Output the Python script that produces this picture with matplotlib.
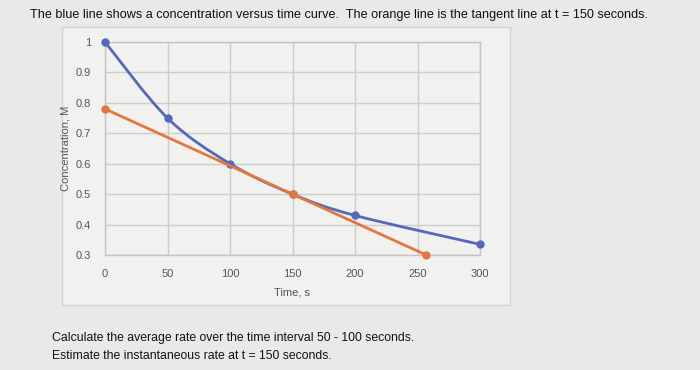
import matplotlib
matplotlib.use("Agg")
import matplotlib.pyplot as plt
from matplotlib.path import Path
from matplotlib.patches import PathPatch, Rectangle
import numpy as np

plt.rcParams['font.family'] = ['Liberation Sans', 'DejaVu Sans']

title = "The blue line shows a concentration versus time curve.  The orange line is the tangent line at t = 150 seconds."
question1 = "Calculate the average rate over the time interval 50 - 100 seconds."
question2 = "Estimate the instantaneous rate at t = 150 seconds."

blue_t = [0, 50, 100, 150, 200, 300]
blue_c = [1.0, 0.75, 0.60, 0.50, 0.43, 0.335]
orange_t = [0, 150, 257]
orange_c = [0.78, 0.50, 0.30]

x_ticks = [0, 50, 100, 150, 200, 250, 300]
y_ticks = [0.3, 0.4, 0.5, 0.6, 0.7, 0.8, 0.9, 1.0]
y_tick_labels = ["0.3", "0.4", "0.5", "0.6", "0.7", "0.8", "0.9", "1"]

BLUE = "#5668b8"
ORANGE = "#e4763f"
BG = "#e9e9e7"

fig = plt.figure(figsize=(7, 3.7), dpi=100, facecolor=BG)

# chart panel
fig.patches.append(Rectangle((62/700, 1-305/370), (510-62)/700, (305-27)/370,
                             transform=fig.transFigure, facecolor="#f1f1ef",
                             edgecolor="#d4d4d2", linewidth=1.0, zorder=-5))

ax = fig.add_axes([105/700, 1-255/370, (480-105)/700, (255-42)/370])
ax.set_zorder(2)
ax.set_facecolor("#f1f1ef")
ax.set_xlim(0, 300)
ax.set_ylim(0.3, 1.0)
ax.set_xticks(x_ticks)
ax.set_yticks(y_ticks)
ax.set_yticklabels(y_tick_labels)
ax.grid(True, color="#cdcdcb", linewidth=1.0)
ax.set_axisbelow(True)
for s in ax.spines.values():
    s.set_color("#c4c4c2")
    s.set_linewidth(1.0)
ax.tick_params(length=0, labelsize=8, colors="#555555", pad=10)
ax.set_xlabel("Time, s", fontsize=8, color="#555555", labelpad=6)
ax.set_ylabel("Concentration, M", fontsize=8, color="#555555", labelpad=4)

# smooth blue curve (Catmull-Rom style Bezier through the data points)
x = np.array(blue_t, dtype=float)
y = np.array(blue_c, dtype=float)
verts = [(x[0], y[0])]
codes = [Path.MOVETO]
n = len(x)
for i in range(n - 1):
    i0 = max(i - 1, 0)
    i3 = min(i + 2, n - 1)
    c1 = (x[i] + (x[i+1] - x[i0]) / 6, y[i] + (y[i+1] - y[i0]) / 6)
    c2 = (x[i+1] - (x[i3] - x[i]) / 6, y[i+1] - (y[i3] - y[i]) / 6)
    verts += [c1, c2, (x[i+1], y[i+1])]
    codes += [Path.CURVE4] * 3
ax.add_patch(PathPatch(Path(verts, codes), facecolor="none", edgecolor=BLUE,
                       linewidth=2.0, zorder=3, clip_on=False))
ax.plot(blue_t, blue_c, linestyle="none", marker="o", markersize=5,
        color=BLUE, zorder=4, clip_on=False)

ax.plot(orange_t, orange_c, color=ORANGE, linewidth=2.0, marker="o",
        markersize=5, zorder=5, clip_on=False)

fig.text(30/700, 1-15/370, title, fontsize=9.1, color="#111111", va="center", ha="left")
fig.text(52/700, 1-338/370, question1, fontsize=8.8, color="#111111", va="center", ha="left")
fig.text(52/700, 1-356/370, question2, fontsize=8.8, color="#111111", va="center", ha="left")

fig.savefig("out.png", dpi=100, facecolor=BG)
